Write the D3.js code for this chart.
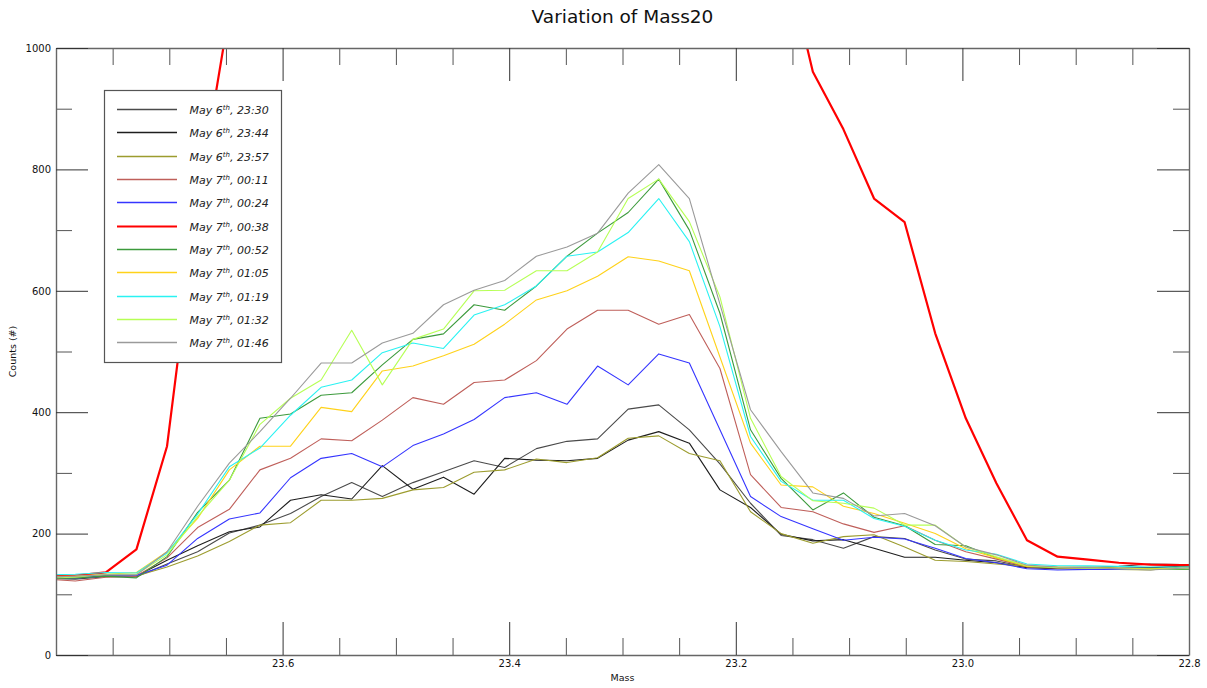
<!DOCTYPE html>
<html>
<head>
<meta charset="utf-8">
<script src="https://cdn.jsdelivr.net/npm/d3@7"></script>
<style>
  body { margin: 0; background: #fff; }
  svg { display: block; font-family: "DejaVu Sans", sans-serif; }
</style>
</head>
<body>
<svg id="chart" width="1207" height="688"></svg>
<script>
// Mass channel of each sample
const mass = [23.810, 23.783, 23.756, 23.729, 23.702, 23.675, 23.647, 23.620, 23.593, 23.566,
              23.539, 23.512, 23.485, 23.458, 23.431, 23.404, 23.376, 23.349, 23.322, 23.295,
              23.268, 23.241, 23.214, 23.187, 23.160, 23.132, 23.105, 23.078, 23.051, 23.024,
              22.997, 22.970, 22.943, 22.916, 22.889, 22.862, 22.834, 22.807, 22.780];

// Counts per scan
const may6_2330 = [126, 125, 129, 129, 150, 170, 201, 214, 233, 261, 284, 261, 284, 302, 320, 309, 340, 352, 356, 405,
                   412, 371, 315, 250, 197, 190, 176, 195, 192, 173, 158, 155, 145, 143, 144, 146, 150, 149, 148];
const may6_2344 = [128, 127, 131, 130, 156, 180, 203, 211, 255, 264, 257, 312, 273, 293, 265, 324, 321, 320, 324, 354,
                   368, 349, 272, 243, 199, 188, 190, 176, 161, 161, 156, 152, 144, 142, 142, 143, 144, 146, 147];
const may6_2357 = [127, 128, 130, 130, 145, 163, 187, 214, 218, 255, 255, 258, 272, 276, 301, 305, 323, 317, 325, 357,
                   361, 332, 320, 236, 200, 184, 195, 198, 178, 156, 154, 150, 146, 144, 142, 141, 140, 145, 145];
const may7_0011 = [125, 122, 128, 130, 160, 210, 240, 305, 324, 356, 353, 387, 424, 413, 449, 453, 485, 537, 568, 568,
                   545, 561, 472, 297, 243, 236, 216, 202, 213, 189, 170, 158, 145, 143, 142, 141, 141, 142, 143];
const may7_0024 = [128, 127, 130, 131, 148, 192, 224, 234, 292, 324, 332, 310, 345, 364, 388, 424, 432, 413, 476, 445,
                   496, 481, 371, 261, 228, 208, 189, 194, 191, 176, 159, 152, 142, 140, 141, 141, 141, 141, 142];
const may7_0038 = [130, 131, 136, 174, 344, 745, 1060, 1450, 1850, 2250, 2600, 2900, 3150, 3350, 3450, 3500, 3450, 3300, 3050, 2750,
                   2400, 2050, 1700, 1400, 1180, 961, 866, 752, 713, 530, 390, 283, 189, 162, 157, 152, 149, 148, 149];
const may7_0052 = [126, 127, 130, 127, 162, 235, 288, 390, 397, 428, 432, 478, 520, 529, 577, 568, 608, 657, 695, 729,
                   784, 700, 563, 371, 291, 239, 267, 227, 213, 182, 180, 160, 146, 144, 145, 143, 142, 141, 142];
const may7_0105 = [129, 130, 133, 136, 170, 225, 305, 344, 344, 408, 401, 468, 476, 493, 512, 545, 585, 600, 624, 656,
                   649, 633, 491, 349, 280, 277, 245, 233, 217, 200, 175, 160, 146, 145, 144, 143, 142, 143, 144];
const may7_0119 = [132, 133, 136, 135, 168, 232, 310, 341, 395, 441, 453, 498, 514, 505, 560, 577, 608, 657, 664, 696,
                   752, 681, 541, 360, 286, 255, 255, 225, 212, 189, 173, 166, 150, 147, 147, 146, 145, 145, 145];
const may7_0132 = [127, 128, 133, 133, 165, 228, 288, 380, 423, 453, 535, 445, 520, 537, 600, 601, 633, 633, 664, 752,
                   784, 714, 590, 390, 294, 254, 250, 242, 214, 214, 178, 162, 147, 144, 143, 142, 141, 142, 143];
const may7_0146 = [128, 130, 132, 132, 170, 245, 316, 368, 423, 481, 481, 514, 530, 577, 601, 617, 657, 672, 695, 761,
                   808, 752, 578, 404, 335, 267, 258, 229, 233, 213, 178, 165, 148, 145, 144, 142, 140, 143, 144];

// Scan labels: date and time
const scanDays  = ["May 6", "May 6", "May 6", "May 7", "May 7", "May 7", "May 7", "May 7", "May 7", "May 7", "May 7"];
const scanTimes = ["23:30", "23:44", "23:57", "00:11", "00:24", "00:38", "00:52", "01:05", "01:19", "01:32", "01:46"];

// Axis ticks
const xMajorTicks = [23.6, 23.4, 23.2, 23.0, 22.8];
const xMinorTicks = [23.75, 23.7, 23.65, 23.55, 23.5, 23.45, 23.35, 23.3, 23.25, 23.15, 23.1, 23.05, 22.95, 22.9, 22.85];
const yMajorTicks = [0, 200, 400, 600, 800, 1000];
const yMinorTicks = [100, 300, 500, 700, 900];

const scans = [may6_2330, may6_2344, may6_2357, may7_0011, may7_0024, may7_0038,
               may7_0052, may7_0105, may7_0119, may7_0132, may7_0146];

// Line styles
const lineColors = ["#4a4a4a", "#1e1e1e", "#9c9c2e", "#bf5f5a", "#3535ff", "#ff0000",
                    "#3c9a3c", "#ffd21a", "#2af2f2", "#b6ff55", "#9a9a9a"];
const lineWidths = [1.1, 1.1, 1.1, 1.1, 1.1, 2.2, 1.1, 1.1, 1.1, 1.1, 1.1];

const svg = d3.select("#chart");
const L = 56, R = 1189, T = 48, B = 655;

const x = d3.scaleLinear().domain([23.8, 22.8]).range([L, R]);
const y = d3.scaleLinear().domain([0, 1000]).range([B, T]);

// Title
svg.append("text")
  .attr("x", (L + R) / 2).attr("y", 23)
  .attr("text-anchor", "middle")
  .attr("font-size", 18.5)
  .attr("fill", "#111")
  .text("Variation of Mass20");

// Data lines, clipped to the plot area
svg.append("clipPath").attr("id", "plotClip")
  .append("rect").attr("x", L).attr("y", T).attr("width", R - L).attr("height", B - T);

const line = d3.line().x((d, i) => x(mass[i])).y(d => y(d));
const plot = svg.append("g").attr("clip-path", "url(#plotClip)");
scans.forEach((s, k) => {
  plot.append("path")
    .datum(s)
    .attr("d", line)
    .attr("fill", "none")
    .attr("stroke", lineColors[k])
    .attr("stroke-width", lineWidths[k])
    .attr("stroke-linejoin", "round");
});

// Axes with inward ticks
const frameColor = "#666";
function styleAxis(g) {
  g.select(".domain").attr("stroke", frameColor).attr("stroke-width", 1.4);
  g.selectAll(".tick line").attr("stroke", "#333");
  g.selectAll("text").attr("font-family", "DejaVu Sans").attr("font-size", 10).attr("fill", "#111");
}
function minor(g) {
  g.select(".domain").remove();
  g.selectAll(".tick line").attr("stroke", "#555");
  g.selectAll("text").remove();
}

svg.append("g").attr("transform", `translate(0,${B})`)
  .call(d3.axisBottom(x).tickValues(xMinorTicks).tickSizeInner(-17).tickSizeOuter(0)).call(minor);
svg.append("g").attr("transform", `translate(0,${B})`)
  .call(d3.axisBottom(x).tickValues(xMajorTicks).tickFormat(d3.format(".1f"))
    .tickSizeInner(-33).tickSizeOuter(0).tickPadding(5)).call(styleAxis);

svg.append("g").attr("transform", `translate(0,${T})`)
  .call(d3.axisTop(x).tickValues(xMinorTicks).tickSizeInner(-17).tickSizeOuter(0)).call(minor);
svg.append("g").attr("transform", `translate(0,${T})`)
  .call(d3.axisTop(x).tickValues(xMajorTicks).tickFormat("").tickSizeInner(-33).tickSizeOuter(0)).call(styleAxis);

svg.append("g").attr("transform", `translate(${L},0)`)
  .call(d3.axisLeft(y).tickValues(yMinorTicks).tickSizeInner(-16).tickSizeOuter(0)).call(minor);
svg.append("g").attr("transform", `translate(${L},0)`)
  .call(d3.axisLeft(y).tickValues(yMajorTicks).tickFormat(d3.format("d"))
    .tickSizeInner(-32).tickSizeOuter(0).tickPadding(5)).call(styleAxis);

svg.append("g").attr("transform", `translate(${R},0)`)
  .call(d3.axisRight(y).tickValues(yMinorTicks).tickSizeInner(-16).tickSizeOuter(0)).call(minor);
svg.append("g").attr("transform", `translate(${R},0)`)
  .call(d3.axisRight(y).tickValues(yMajorTicks).tickFormat("").tickSizeInner(-32).tickSizeOuter(0)).call(styleAxis);

// Axis titles
svg.append("text")
  .attr("x", (L + R) / 2).attr("y", 681)
  .attr("text-anchor", "middle").attr("font-size", 9.5).attr("fill", "#111")
  .text("Mass");
svg.append("text")
  .attr("transform", `translate(16,${(T + B) / 2}) rotate(-90)`)
  .attr("text-anchor", "middle").attr("font-size", 9.5).attr("fill", "#111")
  .text("Counts (#)");

// Legend
const legend = svg.append("g");
legend.append("rect")
  .attr("x", 104.5).attr("y", 90.5).attr("width", 177).attr("height", 272)
  .attr("fill", "#fff").attr("stroke", "#555").attr("stroke-width", 1.2);

scanTimes.forEach((t, k) => {
  const yy = Math.round(109 + k * 23.33) + 0.5;
  legend.append("line")
    .attr("x1", 117).attr("x2", 177).attr("y1", yy).attr("y2", yy)
    .attr("stroke", lineColors[k])
    .attr("stroke-width", k === 5 ? 2.2 : 1.6);
  const txt = legend.append("text")
    .attr("x", 189.5).attr("y", yy + 4)
    .attr("font-size", 11).attr("font-style", "italic").attr("fill", "#222");
  txt.append("tspan").text(scanDays[k]);
  txt.append("tspan").attr("font-size", 7).attr("dy", -4).text("th");
  txt.append("tspan").attr("dy", 4).text(", " + t);
});
</script>
</body>
</html>
